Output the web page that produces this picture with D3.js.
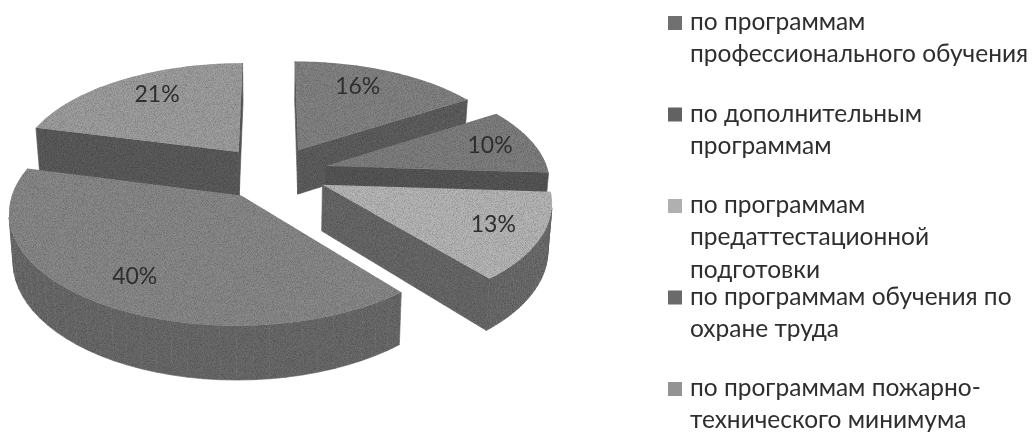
<!DOCTYPE html>
<html>
<head>
<meta charset="utf-8">
<script src="https://cdn.jsdelivr.net/npm/d3@7"></script>
<style>
  html, body { margin: 0; background: #fff; }
  svg { display: block; }
  text { font-family: Lato, "Open Sans", sans-serif; }
</style>
</head>
<body>
<div id="chart"></div>
<script>
// data
const categories = [
  ['по программам', 'профессионального обучения'],
  ['по дополнительным', 'программам'],
  ['по программам', 'предаттестационной', 'подготовки'],
  ['по программам обучения по', 'охране труда'],
  ['по программам пожарно-', 'технического минимума']
]
const values = [16, 10, 13, 40, 21]
const topColors = ['#858585', '#818181', '#b9b9b9', '#8b8b8b', '#a1a1a1']
const wallColors = ['#616161', '#595959', '#6b6b6b', '#6c6c6c', '#5d5d5d']
const swatchColors = ['#6f6f6f', '#626262', '#b0b0b0', '#6a6a6a', '#939393']

// canvas
const width = 1032,
  height = 432

// projection of the tilted pie, fitted to the picture
const cx = 272,
  cy = 172.5,
  rx = 223,
  ry = 106,
  persp = 0.134,
  explode = 0.25,
  thickness = 45.5,
  shrink = 0.985

let svg = d3.select('#chart')
  .append('svg')
  .attr('width', width)
  .attr('height', height)

// soft scan look
let defs = svg.append('defs')
let grain = defs.append('filter').attr('id', 'scan')
  .attr('x', '-5%').attr('y', '-5%').attr('width', '110%').attr('height', '110%')
grain.append('feTurbulence')
  .attr('type', 'fractalNoise').attr('baseFrequency', '0.9 1.3').attr('numOctaves', 2).attr('seed', 4)
  .attr('result', 'noise')
grain.append('feColorMatrix').attr('in', 'noise')
  .attr('values', '0 0 0 0 0  0 0 0 0 0  0 0 0 0 0  0 0 0 0.9 -0.3')
  .attr('result', 'speck')
grain.append('feComposite').attr('in', 'speck').attr('in2', 'SourceAlpha').attr('operator', 'in').attr('result', 'clipped')
let merge = grain.append('feMerge').attr('result', 'both')
merge.append('feMergeNode').attr('in', 'SourceGraphic')
merge.append('feMergeNode').attr('in', 'clipped')
grain.append('feGaussianBlur').attr('in', 'both').attr('stdDeviation', 0.55)

let blur = defs.append('filter').attr('id', 'soft')
blur.append('feGaussianBlur').attr('stdDeviation', 0.35)

// disk point -> screen, level 0 is the top face and 1 the bottom face
let project = (u, d, level) => {
  const w = 1 - persp * d
  const x = rx * u / w
  const y = ry * d / w
  if (!level) return [cx + x, cy + y]
  return [cx + x * shrink, cy + y + thickness / w]
}

const pie = d3.pie().sort(null).value(d => d)
const slices = pie(values).map((s, i) => {
  const mid = (s.startAngle + s.endAngle) / 2
  const ou = explode * Math.sin(mid),
    od = -explode * Math.cos(mid)
  const steps = d3.range(0, 41).map(k => s.startAngle + (s.endAngle - s.startAngle) * k / 40)
  return {
    i, mid, ou, od,
    rim: steps.map(a => [ou + Math.sin(a), od - Math.cos(a)]),
    apex: [ou, od]
  }
})

const line = d3.line()
const area2 = pts => pts.reduce((acc, p, k) => {
  const q = pts[(k + 1) % pts.length]
  return acc + p[0] * q[1] - q[0] * p[1]
}, 0)

// back to front
const order = [0, 4, 1, 3, 2]
let g = svg.append('g').attr('filter', 'url(#scan)')

order.forEach(idx => {
  const s = slices[idx]
  const top = [s.apex].concat(s.rim).concat([s.apex])
  // walls: every edge of the outline that faces the viewer
  for (let k = 0; k < top.length - 1; k++) {
    const a = top[k], b = top[k + 1]
    const quad = [
      project(a[0], a[1], 0), project(b[0], b[1], 0),
      project(b[0], b[1], 1), project(a[0], a[1], 1)
    ]
    if (area2(quad) >= 0) continue
    g.append('path')
      .attr('d', line(quad) + 'Z')
      .attr('fill', wallColors[idx])
      .attr('stroke', wallColors[idx])
      .attr('stroke-width', 0.6)
  }
  g.append('path')
    .attr('d', line(top.map(p => project(p[0], p[1], 0))) + 'Z')
    .attr('fill', topColors[idx])
})

// value labels
const labelReach = 1.03
const labelNudge = [-13, 3, 3, 2, 12]
svg.append('g').attr('filter', 'url(#soft)')
  .selectAll('text')
  .data(slices)
  .enter()
  .append('text')
  .attr('x', s => project(labelReach * Math.sin(s.mid), -labelReach * Math.cos(s.mid), 0)[0] + labelNudge[s.i])
  .attr('y', s => project(labelReach * Math.sin(s.mid), -labelReach * Math.cos(s.mid), 0)[1] + 1)
  .attr('text-anchor', 'middle')
  .attr('dominant-baseline', 'middle')
  .attr('font-size', 23)
  .attr('fill', '#2e2e2e')
  .text(s => values[s.i] + '%')

// legend
const legendY = d3.scaleLinear().domain([0, categories.length - 1]).range([23, 389])
let legend = svg.append('g').attr('filter', 'url(#soft)')
  .selectAll('g')
  .data(categories)
  .enter()
  .append('g')
  .attr('transform', (d, i) => `translate(668, ${legendY(i)})`)

legend.append('rect')
  .attr('y', -7)
  .attr('width', 14)
  .attr('height', 14)
  .attr('fill', (d, i) => swatchColors[i])

legend.each(function (d) {
  d3.select(this).selectAll('text')
    .data(d)
    .enter()
    .append('text')
    .attr('x', 22)
    .attr('y', (t, k) => 7 + k * 32.3)
    .attr('font-size', 24.5)
    .attr('fill', '#2e2e2e')
    .text(t => t)
})
</script>
</body>
</html>
